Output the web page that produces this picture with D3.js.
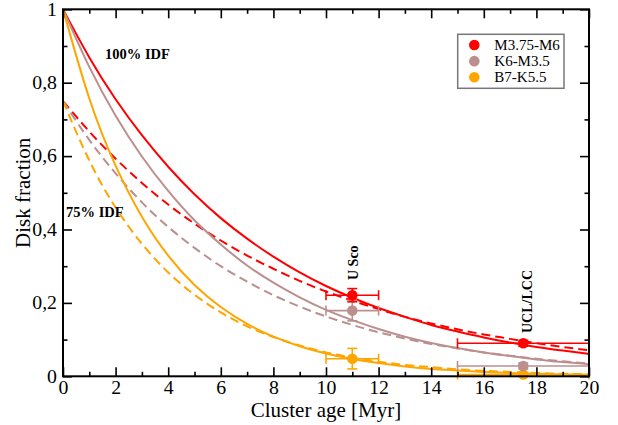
<!DOCTYPE html>
<html>
<head>
<meta charset="utf-8">
<script src="https://cdn.jsdelivr.net/npm/d3@7"></script>
<style>
  html, body { margin: 0; padding: 0; background: #fff; }
  svg { display: block; }
  text { font-family: "Liberation Serif", "Times New Roman", serif; fill: #000; }
</style>
</head>
<body>
<svg id="chart" width="618" height="425"></svg>
<script>
// ---------------- data ----------------
const ages = [0,1,2,3,4,5,6,7,8,9,10,11,12,13,14,15,16,17,18,19,20];

// 100% initial disk fraction model curves (solid)
const redSolid    = [1.000,0.869,0.755,0.657,0.571,0.496,0.431,0.375,0.326,0.283,0.246,0.214,0.186,0.162,0.140,0.122,0.106,0.092,0.080,0.070,0.061];
const brownSolid  = [1.000,0.843,0.710,0.599,0.505,0.425,0.359,0.302,0.255,0.215,0.181,0.153,0.129,0.108,0.091,0.077,0.065,0.055,0.046,0.039,0.033];
const orangeSolid = [1.000,0.757,0.574,0.435,0.329,0.249,0.189,0.143,0.108,0.082,0.062,0.047,0.036,0.027,0.020,0.016,0.012,0.009,0.007,0.005,0.004];

// 75% initial disk fraction model curves (dashed)
const redDashed    = [0.750,0.667,0.593,0.527,0.468,0.416,0.370,0.329,0.293,0.260,0.231,0.206,0.183,0.162,0.144,0.128,0.114,0.102,0.090,0.080,0.071];
const brownDashed  = [0.750,0.644,0.553,0.474,0.407,0.350,0.300,0.258,0.221,0.190,0.163,0.140,0.120,0.103,0.088,0.076,0.065,0.056,0.048,0.041,0.035];
const orangeDashed = [0.750,0.588,0.460,0.361,0.283,0.222,0.174,0.136,0.107,0.084,0.065,0.051,0.040,0.031,0.025,0.019,0.015,0.012,0.009,0.007,0.006];

// observed clusters
const clusterNames  = ["U Sco", "UCL/LCC"];
const clusterAge    = [11, 17.5];
const clusterAgeLo  = [10, 15];
const clusterAgeHi  = [12, 20];
const redFrac       = [0.221, 0.090];
const redErr        = [0.018, 0.008];
const brownFrac     = [0.179, 0.028];
const brownErr      = [0.028, 0.008];
const orangeFrac    = [0.048, 0.005];
const orangeErr     = [0.028, 0.005];

const seriesNames  = ["M3.75-M6", "K6-M3.5", "B7-K5.5"];
const seriesColors = ["#ff0000", "#bc8f8f", "#ffa500"];

const xMajorTicks = [0,2,4,6,8,10,12,14,16,18,20];
const xMinorTicks = [1,3,5,7,9,11,13,15,17,19];
const yMajorTicks = [0,0.2,0.4,0.6,0.8,1];
const yMajorLabels = ["0","0,2","0,4","0,6","0,8","1"];
const yMinorTicks = [0.1,0.3,0.5,0.7,0.9];

// ---------------- layout ----------------
const svg = d3.select("#chart");
const L = 63, R = 589, T = 9.3, B = 376.3;
const x = d3.scaleLinear().domain([0,20]).range([L,R]);
const y = d3.scaleLinear().domain([0,1]).range([B,T]);

// ---------------- curves ----------------
const line = d3.line().x((d,i)=>x(ages[i])).y(d=>y(d)).curve(d3.curveNatural);
const curves = [
  {v: redDashed, c: 0, dash: true},
  {v: brownDashed, c: 1, dash: true},
  {v: orangeDashed, c: 2, dash: true},
  {v: redSolid, c: 0, dash: false},
  {v: brownSolid, c: 1, dash: false},
  {v: orangeSolid, c: 2, dash: false}
];
const cg = svg.append("g");
curves.forEach(cv => {
  cg.append("path")
    .attr("d", line(cv.v))
    .attr("fill","none")
    .attr("stroke", seriesColors[cv.c])
    .attr("stroke-width", 2)
    .attr("stroke-dasharray", cv.dash ? "9,5" : null);
});

// ---------------- error bars + points ----------------
const fracs = [redFrac, brownFrac, orangeFrac];
const errs = [redErr, brownErr, orangeErr];
const pg = svg.append("g");
const cap = 5;
[2,1,0].forEach(s => {
  clusterAge.forEach((a,i) => {
    const col = seriesColors[s];
    const cy = y(fracs[s][i]);
    const g = pg.append("g").attr("stroke", col).attr("stroke-width", 1.6);
    g.append("line").attr("x1", x(clusterAgeLo[i])).attr("x2", x(clusterAgeHi[i])).attr("y1", cy).attr("y2", cy);
    g.append("line").attr("x1", x(clusterAgeLo[i])).attr("x2", x(clusterAgeLo[i])).attr("y1", cy-cap).attr("y2", cy+cap);
    g.append("line").attr("x1", x(clusterAgeHi[i])).attr("x2", x(clusterAgeHi[i])).attr("y1", cy-cap).attr("y2", cy+cap);
    const y1 = y(fracs[s][i]+errs[s][i]), y2 = y(fracs[s][i]-errs[s][i]);
    const cx = x(a);
    g.append("line").attr("x1", cx).attr("x2", cx).attr("y1", y1).attr("y2", y2);
    g.append("line").attr("x1", cx-cap).attr("x2", cx+cap).attr("y1", y1).attr("y2", y1);
    g.append("line").attr("x1", cx-cap).attr("x2", cx+cap).attr("y1", y2).attr("y2", y2);
  });
});
[2,1,0].forEach(s => {
  clusterAge.forEach((a,i) => {
    pg.append("circle").attr("cx", x(a)).attr("cy", y(fracs[s][i])).attr("r", 5.3).attr("fill", seriesColors[s]);
  });
});

// ---------------- axes ----------------
const SX = 1.1;
function styleAxis(g){
  g.select(".domain").remove();
  g.selectAll(".tick line").attr("stroke","#000").attr("stroke-width",1.6);
  g.selectAll("text").attr("font-family", '"Liberation Serif", serif').attr("font-size", 18).attr("fill","#000")
    .each(function(){
      const t = d3.select(this);
      const xv = +t.attr("x") || 0;
      t.attr("x", xv / SX).attr("transform", `scale(${SX},1)`);
    });
}
const ax = svg.append("g");
ax.append("g").attr("transform",`translate(0,${B})`)
  .call(d3.axisBottom(x).tickValues(xMajorTicks).tickFormat(d3.format("d")).tickSizeInner(-9).tickSizeOuter(0).tickPadding(5)).call(styleAxis);
ax.append("g").attr("transform",`translate(0,${B})`)
  .call(d3.axisBottom(x).tickValues(xMinorTicks).tickFormat("").tickSizeInner(-4.5).tickSizeOuter(0)).call(styleAxis);
ax.append("g").attr("transform",`translate(0,${T})`)
  .call(d3.axisTop(x).tickValues(xMajorTicks).tickFormat("").tickSizeInner(-9).tickSizeOuter(0)).call(styleAxis);
ax.append("g").attr("transform",`translate(0,${T})`)
  .call(d3.axisTop(x).tickValues(xMinorTicks).tickFormat("").tickSizeInner(-4.5).tickSizeOuter(0)).call(styleAxis);
ax.append("g").attr("transform",`translate(${L},0)`)
  .call(d3.axisLeft(y).tickValues(yMajorTicks).tickFormat((d,i)=>yMajorLabels[i]).tickSizeInner(-9).tickSizeOuter(0).tickPadding(6)).call(styleAxis);
ax.append("g").attr("transform",`translate(${L},0)`)
  .call(d3.axisLeft(y).tickValues(yMinorTicks).tickFormat("").tickSizeInner(-4.5).tickSizeOuter(0)).call(styleAxis);
ax.append("g").attr("transform",`translate(${R},0)`)
  .call(d3.axisRight(y).tickValues(yMajorTicks).tickFormat("").tickSizeInner(-9).tickSizeOuter(0)).call(styleAxis);
ax.append("g").attr("transform",`translate(${R},0)`)
  .call(d3.axisRight(y).tickValues(yMinorTicks).tickFormat("").tickSizeInner(-4.5).tickSizeOuter(0)).call(styleAxis);

// frame
svg.append("rect").attr("x",L).attr("y",T).attr("width",R-L).attr("height",B-T)
  .attr("fill","none").attr("stroke","#000").attr("stroke-width",2);

// axis titles
svg.append("text").attr("x",(L+R)/2).attr("y",417).attr("text-anchor","middle")
  .attr("font-size",21).text("Cluster age [Myr]");
svg.append("text").attr("transform",`translate(30,${(T+B)/2}) rotate(-90)`).attr("text-anchor","middle")
  .attr("font-size",21).text("Disk fraction");

// annotations
svg.append("text").attr("x",105).attr("y",59).attr("font-size",14.5).attr("font-weight","bold").text("100% IDF");
svg.append("text").attr("x",66).attr("y",217).attr("font-size",14.5).attr("font-weight","bold").text("75% IDF");
svg.append("text").attr("transform",`translate(358,280) rotate(-90)`).attr("font-size",14).attr("font-weight","bold").text(clusterNames[0]);
svg.append("text").attr("transform",`translate(532,333) rotate(-90)`).attr("font-size",14).attr("font-weight","bold").text(clusterNames[1]);

// legend
const lg = svg.append("g");
lg.append("rect").attr("x",457.7).attr("y",34.3).attr("width",106.3).attr("height",54)
  .attr("fill","#fff").attr("stroke","#777").attr("stroke-width",1.5);
const legY = d3.scalePoint().domain(seriesNames).range([45,77.3]);
seriesNames.forEach((n,i) => {
  lg.append("circle").attr("cx",474.3).attr("cy",legY(n)).attr("r",5.3).attr("fill",seriesColors[i]);
  lg.append("text").attr("x",494.3).attr("y",legY(n)+5).attr("font-size",15).text(n);
});
</script>
</body>
</html>
